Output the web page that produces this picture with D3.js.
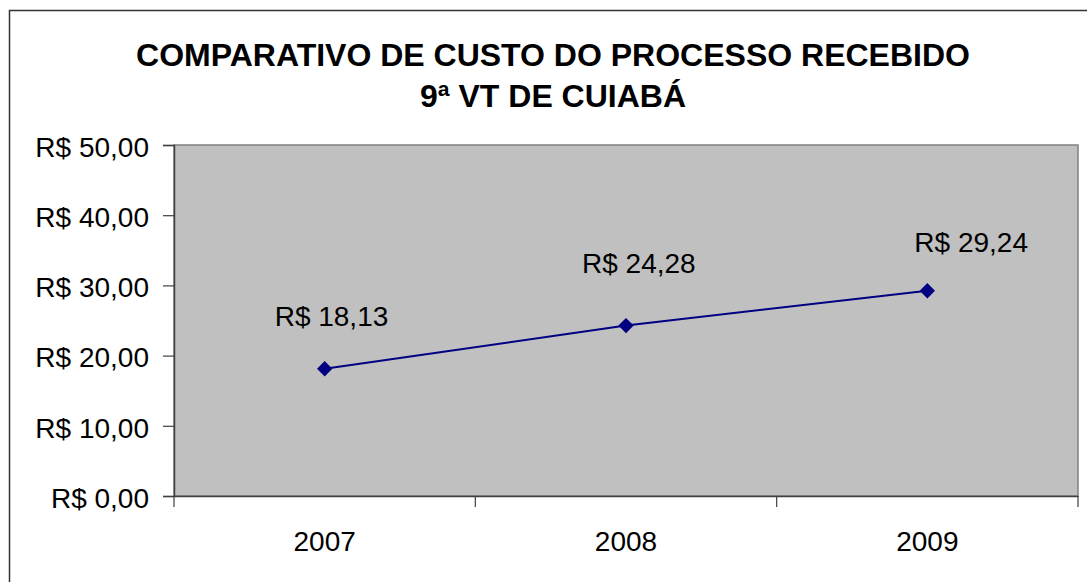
<!DOCTYPE html>
<html>
<head>
<meta charset="utf-8">
<script src="https://cdn.jsdelivr.net/npm/d3@7"></script>
<style>
  body { margin: 0; background: #fff; }
  text { font-family: "Liberation Sans", Arial, sans-serif; }
</style>
</head>
<body>
<div id="chart"></div>
<script>
var years = ['2007', '2008', '2009']
var costs = [18.13, 24.28, 29.24]
var yTicks = [0, 10, 20, 30, 40, 50]
var titleLines = ['COMPARATIVO DE CUSTO DO PROCESSO RECEBIDO', '9ª VT DE CUIABÁ']

var width = 1087
var height = 582
var margin = { top: 145, left: 174, right: 9, bottom: 86 }
var plotW = width - margin.left - margin.right
var plotH = height - margin.top - margin.bottom

// labels were dragged by hand in the original, so nudge them the same way
var labelDx = [-50, -44, -13]
var labelDy = [-43, -53, -39]

var fmt = function(v) {
  return 'R$ ' + v.toFixed(2).replace('.', ',')
}

var svg = d3
  .select('#chart')
  .append('svg')
  .attr('width', width)
  .attr('height', height)

// outer chart frame (runs off right and bottom)
svg.append('rect')
  .attr('x', 9.5)
  .attr('y', 10.5)
  .attr('width', width)
  .attr('height', height)
  .attr('fill', 'none')
  .attr('stroke', '#333')
  .attr('stroke-width', 1.5)

svg.selectAll('.title')
  .data(titleLines)
  .enter()
  .append('text')
  .attr('class', 'title')
  .attr('x', 553)
  .attr('y', function(d, i) { return 66 + i * 41 })
  .attr('text-anchor', 'middle')
  .attr('font-weight', 'bold')
  .attr('font-size', 32)
  .text(function(d) { return d })

var g = svg.append('g')
  .attr('transform', 'translate(' + margin.left + ',' + margin.top + ')')

var x = d3.scaleBand().domain(years).range([0, plotW])
var y = d3.scaleLinear().domain([0, 50]).range([plotH, 0])

g.append('rect')
  .attr('width', plotW)
  .attr('height', plotH)
  .attr('fill', '#c0c0c0')
  .attr('stroke', '#808080')
  .attr('stroke-width', 1.5)

// y axis
var yAxis = g.append('g')
  .call(d3.axisLeft(y).tickValues(yTicks).tickSize(11).tickPadding(14).tickFormat(fmt))
yAxis.select('.domain').attr('stroke', '#404040').attr('stroke-width', 1.5)
yAxis.selectAll('.tick line').attr('stroke', '#404040').attr('stroke-width', 1.2)
yAxis.selectAll('.tick text')
  .attr('font-size', 28)
  .attr('dy', '0.4em')
  .attr('fill', '#000')
  .attr('font-family', '"Liberation Sans", Arial, sans-serif')

// x axis
var xAxis = g.append('g')
  .attr('transform', 'translate(0,' + plotH + ')')
  .call(d3.axisBottom(x).tickSize(0).tickPadding(35))
xAxis.select('.domain').attr('stroke', '#404040').attr('stroke-width', 1.5)
xAxis.selectAll('.tick text')
  .attr('font-size', 28)
  .attr('fill', '#000')
  .attr('font-family', '"Liberation Sans", Arial, sans-serif')

// category separator ticks
var bounds = years.map(function(d) { return x(d) }).concat([plotW])
g.selectAll('.xtick')
  .data(bounds)
  .enter()
  .append('line')
  .attr('x1', function(d) { return d })
  .attr('x2', function(d) { return d })
  .attr('y1', plotH)
  .attr('y2', plotH + 11)
  .attr('stroke', '#404040')
  .attr('stroke-width', 1.2)

var cx = function(d, i) { return x(years[i]) + x.bandwidth() / 2 }

var line = d3.line()
  .x(function(d, i) { return cx(d, i) })
  .y(function(d) { return y(d) })

g.append('path')
  .datum(costs)
  .attr('d', line)
  .attr('fill', 'none')
  .attr('stroke', '#000080')
  .attr('stroke-width', 2)

g.selectAll('.marker')
  .data(costs)
  .enter()
  .append('path')
  .attr('class', 'marker')
  .attr('d', d3.symbol().type(d3.symbolDiamond2).size(150))
  .attr('transform', function(d, i) { return 'translate(' + cx(d, i) + ',' + y(d) + ')' })
  .attr('fill', '#000080')

g.selectAll('.label')
  .data(costs)
  .enter()
  .append('text')
  .attr('class', 'label')
  .attr('x', function(d, i) { return cx(d, i) + labelDx[i] })
  .attr('y', function(d, i) { return y(d) + labelDy[i] })
  .attr('font-size', 28)
  .text(fmt)
</script>
</body>
</html>
